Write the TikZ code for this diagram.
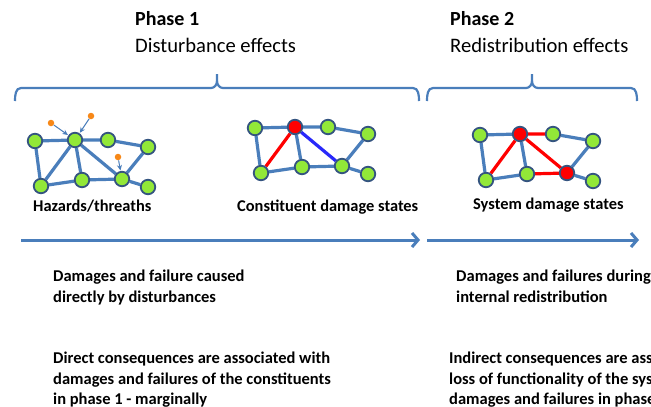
\documentclass[tikz,border=0pt]{standalone}
\usepackage{fontspec}
\setmainfont{Carlito}
\usetikzlibrary{arrows.meta,backgrounds}

\definecolor{steel}{RGB}{74,126,187}
\definecolor{nodegreen}{RGB}{146,232,56}
\definecolor{nodeedge}{RGB}{52,84,128}
\definecolor{hazorange}{RGB}{247,136,24}
\definecolor{linkblue}{RGB}{40,40,250}

\tikzset{
  netnode/.style={circle, draw=nodeedge, line width=1.8pt, fill=nodegreen,
                  minimum size=14.5pt, inner sep=0pt},
  failed/.style={fill=red},
  link/.style={draw=steel, line width=3.2pt},
  redlink/.style={draw=red, line width=3.2pt},
  bluelink/.style={draw=linkblue, line width=3.2pt},
  hazard/.style={circle, fill=hazorange, minimum size=6.5pt, inner sep=0pt},
  hazarrow/.style={draw=steel, line width=1pt, shorten >=0.5pt,
                   -{Stealth[length=5.5pt,width=5pt]}},
  phasebrace/.style={draw=steel, line width=2.2pt},
  timeline/.style={draw=steel, line width=3pt,
                   -{Straight Barb[length=6pt,width=14pt]}},
  heading/.style={font=\fontsize{20.6}{24}\selectfont, anchor=base west, inner sep=0pt},
  headingbold/.style={heading, font=\fontsize{20}{24}\selectfont\bfseries},
  caption/.style={font=\fontsize{16.4}{19}\selectfont\bfseries, anchor=base west, inner sep=0pt},
  bodytext/.style={font=\fontsize{16.5}{21}\selectfont\bfseries, anchor=base west, inner sep=0pt},
}

% eight network nodes, shifted copy of the base layout
\newcommand\placenet[5]{%
  \begin{scope}[shift={(#2,#3)}]
    \node[netnode]    (#1a) at (35,141) {};
    \node[netnode,#4] (#1b) at (75,140) {};
    \node[netnode]    (#1c) at (108,140) {};
    \node[netnode]    (#1d) at (148,147) {};
    \node[netnode]    (#1e) at (41,186) {};
    \node[netnode]    (#1f) at (82,180) {};
    \node[netnode,#5] (#1g) at (122,179) {};
    \node[netnode]    (#1h) at (148,187) {};
  \end{scope}}

\begin{document}
\begin{tikzpicture}[x=1pt,y=-1pt]
  \useasboundingbox (0,0) rectangle (651,407);
  \clip (0,0) rectangle (651,407);

  % phase headings
  \node[headingbold] (p1) at (135,25) {Phase 1};
  \node[heading]     (p1s) at (135,52) {Disturbance effects};
  \node[headingbold] (p2) at (450,25) {Phase 2};
  \node[heading]     (p2s) at (450,52) {Redistribution effects};

  % phase braces
  \draw[phasebrace] (15,101) to[out=90,in=180] (21,88) -- (211,88)
        to[out=0,in=-90] (217,81) -- (217,74);
  \draw[phasebrace] (217,81) to[out=-90,in=180] (223,88) -- (413,88)
        to[out=0,in=90] (419,101);
  \draw[phasebrace] (427,101) to[out=90,in=180] (433,88) -- (526,88)
        to[out=0,in=-90] (532,81) -- (532,74);
  \draw[phasebrace] (532,81) to[out=-90,in=180] (538,88) -- (631,88)
        to[out=0,in=90] (637,101);

  % networks
  \placenet{n1}{0}{0}{}{}
  \placenet{n2}{220}{-13}{failed}{}
  \placenet{n3}{445}{-6}{failed}{failed}

  \begin{scope}[on background layer]
    \fill[white] (0,0) rectangle (651,407);
    % hazards / threats
    \draw[link] (n1a)--(n1b) (n1b)--(n1c) (n1c)--(n1d) (n1a)--(n1e)
                (n1b)--(n1e) (n1b)--(n1f) (n1b)--(n1g) (n1e)--(n1f)
                (n1f)--(n1g) (n1g)--(n1h) (n1d)--(n1g);
    % constituent damage states
    \draw[link] (n2a)--(n2b) (n2b)--(n2c) (n2c)--(n2d) (n2a)--(n2e)
                (n2b)--(n2f) (n2e)--(n2f) (n2f)--(n2g) (n2g)--(n2h) (n2d)--(n2g);
    \draw[redlink] (n2b)--(n2e);
    \draw[bluelink] (n2b)--(n2g);
    % system damage states
    \draw[link] (n3a)--(n3b) (n3c)--(n3d) (n3a)--(n3e) (n3b)--(n3f)
                (n3e)--(n3f) (n3g)--(n3h) (n3d)--(n3g);
    \draw[redlink] (n3b)--(n3c) (n3b)--(n3e) (n3b)--(n3g) (n3f)--(n3g);
  \end{scope}

  % hazard sources
  \node[hazard] (h1) at (51,123) {};
  \node[hazard] (h2) at (91,116) {};
  \node[hazard] (h3) at (118,157) {};
  \draw[hazarrow] (h1) -- (n1b);
  \draw[hazarrow] (h2) -- (n1b);
  \draw[hazarrow] (h3) -- (n1g);

  % network captions
  \node[caption] (c1) at (33,211) {Hazards/threaths};
  \node[caption] (c2) at (237,211) {Constituent damage states};
  \node[caption] (c3) at (473,209) {System damage states};

  % time line
  \coordinate (t1s) at (21,240);
  \coordinate (t1e) at (420,240);
  \coordinate (t2s) at (427,240);
  \coordinate (t2e) at (639,240);
  \draw[timeline] (t1s) -- (t1e);
  \draw[timeline] (t2s) -- (t2e);

  % descriptions
  \node[bodytext] (d1a) at (53,281) {Damages and failure caused};
  \node[bodytext] (d1b) at (53,302) {directly by disturbances};
  \node[bodytext] (d2a) at (456,281) {Damages and failures during};
  \node[bodytext] (d2b) at (456,302) {internal redistribution};

  \node[bodytext] (e1a) at (53,363) {Direct consequences are associated with};
  \node[bodytext] (e1b) at (53,384) {damages and failures of the constituents};
  \node[bodytext] (e1c) at (53,404) {in phase 1 - marginally};
  \node[bodytext] (e2a) at (449,363) {Indirect consequences are associated with};
  \node[bodytext] (e2b) at (449,384) {loss of functionality of the system due to};
  \node[bodytext] (e2c) at (449,404) {damages and failures in phase 2};
\end{tikzpicture}
\end{document}
